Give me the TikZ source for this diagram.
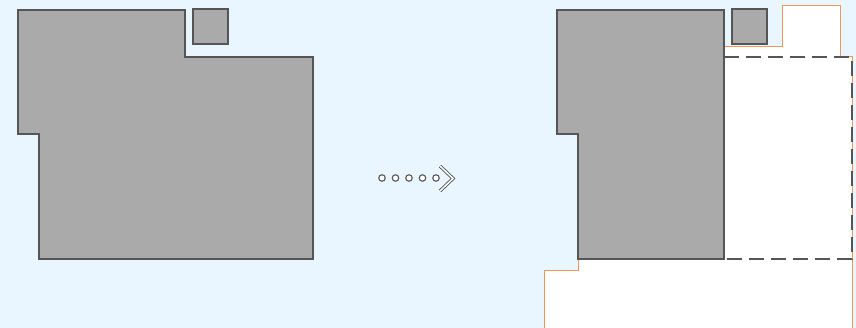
\documentclass[tikz,border=0pt]{standalone}
\begin{document}
\begin{tikzpicture}[x=1pt,y=-1pt,
  grayshape/.style={fill=shapegray, draw=edgegray, line width=1.2pt, line join=miter},
  addarea/.style={fill=white, draw=addorange, line width=1pt},
  dashbox/.style={draw=edgegray, line width=1.2pt, dash pattern=on 15pt off 7pt},
  dot/.style={circle, draw=edgegray, fill=white, line width=1.1pt, inner sep=0pt, minimum size=6.5pt}]
\definecolor{bgblue}{HTML}{EAF6FF}
\definecolor{shapegray}{HTML}{AAAAAA}
\definecolor{edgegray}{HTML}{555555}
\definecolor{addorange}{HTML}{F4965A}
\fill[bgblue] (0,0) rectangle (856,328);
\useasboundingbox (0,0) rectangle (856,328);
% left: original
\draw[grayshape] (18,10) -- (185,10) -- (185,57) -- (313,57) -- (313,259) -- (39,259) -- (39,134) -- (18,134) -- cycle;
\draw[grayshape] (193,9) rectangle (228,44);
% arrow
\foreach \i/\x in {1/382,2/395.5,3/409,4/422.5,5/436} \node[dot] (d\i) at (\x,178) {};
\coordinate (cA) at (440,166);
\coordinate (cB) at (453,178.5);
\coordinate (cC) at (440,191);
\draw[draw=edgegray, line width=0.9pt, double=white, double distance=1.5pt, line join=miter] (cA) -- (cB) -- (cC);
% right: result
\draw[addarea] (724,47) -- (782,47) -- (782,6) -- (840,6) -- (840,57) -- (852,57) -- (852,329) -- (544,329) -- (544,271) -- (578,271) -- (578,259) -- (724,259) -- cycle;
\draw[grayshape] (557,10) -- (724,10) -- (724,259) -- (578,259) -- (578,134) -- (557,134) -- cycle;
\draw[grayshape] (732,9) rectangle (767,44);
\draw[dashbox] (724,57) -- (852,57) -- (852,259) -- (724,259);
\end{tikzpicture}
\end{document}
